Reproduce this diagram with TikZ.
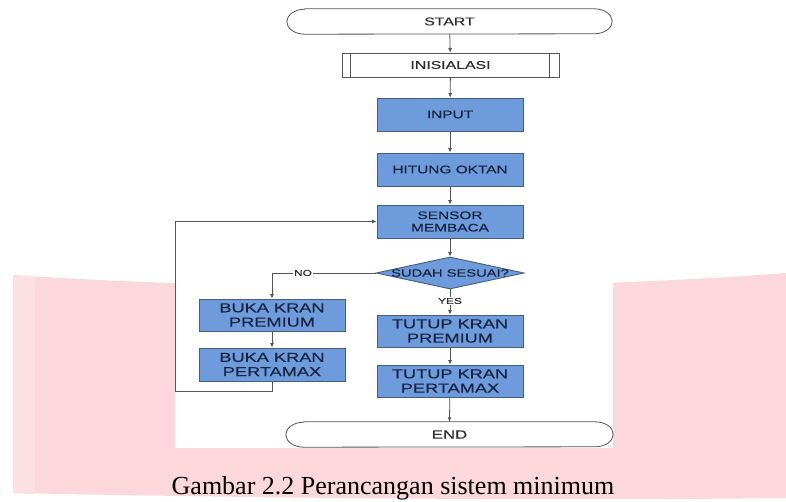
\documentclass[tikz,border=0pt]{standalone}
\usepackage{fontspec}
\setmainfont{Liberation Serif}
\newfontfamily\flowfont[FakeStretch=1.4,FakeBold=0.4]{Liberation Sans}
\usetikzlibrary{arrows.meta,shapes.geometric,calc}
\definecolor{pinkbg}{RGB}{252,216,220}
\definecolor{pinklight}{RGB}{253,224,227}
\definecolor{boxblue}{RGB}{109,155,219}
\definecolor{boxedge}{RGB}{70,94,125}
\definecolor{boxtext}{RGB}{24,36,64}
\definecolor{linegray}{RGB}{85,85,85}
\definecolor{termtext}{RGB}{45,45,45}
\begin{document}
\begin{tikzpicture}[x=1pt,y=-1pt,
  proc/.style={draw=boxedge, fill=boxblue, line width=0.9pt, minimum width=146pt,
    minimum height=33pt, inner sep=0pt, align=center, text=boxtext},
  bigtext/.style={font=\flowfont\fontsize{13}{14.3}\selectfont},
  smalltext/.style={font=\flowfont\fontsize{11}{12.4}\selectfont},
  termbox/.style={minimum width=325pt, minimum height=25pt, inner sep=0pt,
    text=termtext, font=\flowfont\fontsize{11.3}{13}\selectfont},
  termline/.style={draw=linegray, line width=0.8pt, fill=white},
  initbox/.style={draw=linegray, line width=0.8pt, fill=white, minimum width=217pt,
    minimum height=24pt, inner sep=0pt, text=termtext,
    font=\flowfont\fontsize{11.3}{13}\selectfont},
  decbox/.style={diamond, draw=boxedge, fill=boxblue, line width=0.9pt,
    minimum width=148pt, minimum height=32pt, inner sep=0pt},
  dectext/.style={text=boxtext, font=\flowfont\fontsize{10.5}{12}\selectfont},
  lbl/.style={fill=white, inner sep=0.6pt, text=termtext,
    font=\flowfont\fontsize{8.5}{10}\selectfont},
  flow/.style={draw=linegray, line width=0.8pt, -{Latex[length=4.5pt,width=4pt]}}
]
\useasboundingbox (0,0) rectangle (786,502);
\fill[white] (0,0) rectangle (786,502);
% pink watermark band
\fill[pinkbg] (13,275) .. controls (250,291) and (550,291) .. (786,273)
  -- (786,498) .. controls (550,501) and (250,498) .. (13,493) -- cycle;
\fill[pinklight] (13,275) .. controls (20,275.5) and (28,276) .. (35,276.3)
  -- (35,494) -- (13,493) -- cycle;
% white sheet of the chart
\fill[white] (175,240) rectangle (613,448);

% nodes
\node[termbox] (start) at (449.5,21.5) {};
\draw[termline] ([xshift=18pt]start.north west) -- ([xshift=-18pt]start.north east)
  arc[start angle=90, end angle=-90, x radius=18pt, y radius=12.5pt]
  -- ([xshift=18pt]start.south west)
  arc[start angle=270, end angle=90, x radius=18pt, y radius=12.5pt] -- cycle;
\node[termbox] at (start.center) {START};

\node[initbox] (init) at (450.5,65) {INISIALASI};
\draw[draw=linegray, line width=0.8pt] ([xshift=9pt]init.north west) -- ([xshift=9pt]init.south west);
\draw[draw=linegray, line width=0.8pt] ([xshift=-10pt]init.north east) -- ([xshift=-10pt]init.south east);

\node[proc, smalltext] (input) at (450,114.5) {INPUT};
\node[proc, smalltext] (hitung) at (450,169.5) {HITUNG OKTAN};
\node[proc, smalltext] (sensor) at (450,221.5) {SENSOR\\MEMBACA};
\node[decbox, label={[dectext]center:SUDAH SESUAI?}] (dec) at (450,273) {};
\node[proc, bigtext, minimum height=32pt] (bukap) at (272,315) {BUKA KRAN\\PREMIUM};
\node[proc, bigtext] (bukam) at (272,364.5) {BUKA KRAN\\PERTAMAX};
\node[proc, bigtext, minimum height=32pt] (tutupp) at (450,331) {TUTUP KRAN\\PREMIUM};
\node[proc, bigtext, minimum height=32pt] (tutupm) at (450,381) {TUTUP KRAN\\PERTAMAX};

\node[termbox, minimum width=327pt] (end) at (449.5,434.5) {};
\draw[termline] ([xshift=18pt]end.north west) -- ([xshift=-18pt]end.north east)
  arc[start angle=90, end angle=-90, x radius=18pt, y radius=12.5pt]
  -- ([xshift=18pt]end.south west)
  arc[start angle=270, end angle=90, x radius=18pt, y radius=12.5pt] -- cycle;
\node[termbox, minimum width=327pt, font=\flowfont\fontsize{12}{13}\selectfont] at (end.center) {END};

% connectors
\draw[flow] (start) -- (init);
\draw[flow] (init) -- (input);
\draw[flow] (input) -- (hitung);
\draw[flow] (hitung) -- (sensor);
\draw[flow] (sensor) -- (dec);
\draw[flow] (dec.west) -| (bukap.north);
\draw[flow] (bukap) -- (bukam);
\coordinate (loopc) at (175,391);
\draw[flow] (bukam.south) |- (loopc) |- (sensor.west);
\draw[flow] (dec.south) -- (tutupp.north);
\draw[flow] (tutupp) -- (tutupm);
\draw[flow] (tutupm) -- (end.north);

% branch labels
\node[lbl] (nolbl) at (303,273) {NO};
\node[lbl] (yeslbl) at (450,301) {YES};

% caption
\node[anchor=base, inner sep=0pt, font=\fontsize{26}{30}\selectfont] (cap) at (393,494.5)
  {Gambar 2.2 Perancangan sistem minimum};
\end{tikzpicture}
\end{document}
